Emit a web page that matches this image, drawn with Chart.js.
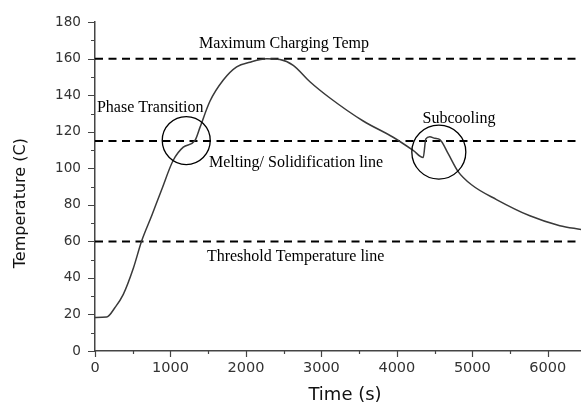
<!DOCTYPE html>
<html lang="en">
<head>
    <meta charset="UTF-8">
    <title>Temperature vs Time</title>
    <style>
        html, body {
            margin: 0;
            padding: 0;
            background: #ffffff;
            overflow: hidden;
        }
        #chart {
            display: block;
        }
    </style>
    <script src="https://cdn.jsdelivr.net/npm/chart.js"></script>
</head>
<body>
    <canvas id="chart" width="581" height="404"></canvas>

    <script>
        // Measured temperature curve (time in s, temperature in C)
        const timeSec = [0, 155, 265, 375, 508, 618, 751, 883, 1037, 1170, 1324, 1391, 1523, 1700, 1877, 2053, 2274, 2450,
            2627, 2848, 3113, 3554, 3951, 4216, 4349, 4384, 4437, 4503, 4570, 4680, 4812, 4989, 5320, 5762, 6159, 6440];
        const tempC = [18.4, 18.6, 23.8, 31, 45.3, 60.2, 74, 88.3, 104.4, 111.6, 115.2, 122.4, 136.7, 148.3, 155.5, 158.1, 160, 159.6,
            156.4, 147.4, 138.5, 125.9, 117, 109.8, 105.9, 116.1, 117.3, 116.4, 115.7, 108, 98.2, 91, 82.9, 74, 68.6, 66.5];

        // Reference levels drawn as dashed lines
        const refLevels = [160, 115, 60];

        // Axis setup
        const xMin = 0, xMax = 6440, xStep = 1000, xMinor = 500;
        const yMin = 0, yMax = 180, yStep = 20, yMinor = 10;
        const xTitle = 'Time (s)';
        const yTitle = 'Temperature (C)';

        // Text notes and circled regions
        const noteTexts = ['Maximum Charging Temp', 'Phase Transition', 'Melting/ Solidification line', 'Subcooling', 'Threshold Temperature line'];
        const noteX = [1377, 26, 1510, 4340, 1483];
        const noteY = [166, 130.6, 100.5, 125, 49.3];
        const circleX = [1209, 4556];
        const circleY = [115.2, 108.9];
        const circleR = [24, 27];

        const curve = timeSec.map((t, i) => ({ x: t, y: tempC[i] }));

        const datasets = [{
            data: curve,
            borderColor: '#3a3a3a',
            borderWidth: 1.5,
            pointRadius: 0,
            cubicInterpolationMode: 'monotone',
            fill: false
        }];
        refLevels.forEach(v => {
            datasets.push({
                data: [{ x: xMin, y: v }, { x: xMax, y: v }],
                borderColor: '#000000',
                borderWidth: 2,
                borderDash: [8, 5.5],
                pointRadius: 0,
                fill: false
            });
        });

        // Tick marks on the outside of both axes, long for major, short for minor
        const tickMarks = {
            id: 'tickMarks',
            afterDraw(chart) {
                const { ctx, scales: { x, y }, chartArea } = chart;
                ctx.save();
                ctx.strokeStyle = '#444444';
                ctx.lineWidth = 1.2;
                ctx.beginPath();
                for (let v = yMin; v <= yMax; v += yMinor) {
                    const py = Math.round(y.getPixelForValue(v)) + 0.5;
                    const len = v % yStep === 0 ? 7 : 4;
                    ctx.moveTo(chartArea.left - len, py);
                    ctx.lineTo(chartArea.left, py);
                }
                for (let v = xMin; v <= xMax; v += xMinor) {
                    const px = Math.round(x.getPixelForValue(v)) + 0.5;
                    const len = v % xStep === 0 ? 6 : 3;
                    ctx.moveTo(px, chartArea.bottom);
                    ctx.lineTo(px, chartArea.bottom + len);
                }
                ctx.stroke();
                ctx.restore();
            }
        };

        // Axis titles, placed off the axes a bit below/right of the area centre
        const axisTitles = {
            id: 'axisTitles',
            afterDraw(chart) {
                const { ctx, chartArea } = chart;
                ctx.save();
                ctx.fillStyle = '#111111';
                ctx.textAlign = 'center';
                ctx.textBaseline = 'alphabetic';
                ctx.font = '18px "DejaVu Sans", sans-serif';
                ctx.fillText(xTitle, chartArea.left + 250, chartArea.bottom + 48.5);
                ctx.font = '16px "DejaVu Sans", sans-serif';
                ctx.translate(25, chartArea.top + 181);
                ctx.rotate(-Math.PI / 2);
                ctx.fillText(yTitle, 0, 0);
                ctx.restore();
            }
        };

        // Notes and circles placed in data space
        const notes = {
            id: 'notes',
            afterDatasetsDraw(chart) {
                const { ctx, scales: { x, y } } = chart;
                ctx.save();
                ctx.fillStyle = '#000000';
                ctx.font = '16px "Liberation Serif", "Times New Roman", serif';
                ctx.textBaseline = 'alphabetic';
                ctx.textAlign = 'left';
                noteTexts.forEach((t, i) => {
                    ctx.fillText(t, x.getPixelForValue(noteX[i]), y.getPixelForValue(noteY[i]));
                });
                ctx.strokeStyle = '#000000';
                ctx.lineWidth = 1.3;
                circleX.forEach((cx, i) => {
                    ctx.beginPath();
                    ctx.arc(x.getPixelForValue(cx), y.getPixelForValue(circleY[i]), circleR[i], 0, Math.PI * 2);
                    ctx.stroke();
                });
                ctx.restore();
            }
        };

        new Chart(document.getElementById('chart'), {
            type: 'line',
            data: { datasets: datasets },
            plugins: [tickMarks, axisTitles, notes],
            options: {
                responsive: false,
                animation: false,
                layout: { padding: { top: 16, right: 0, left: 0, bottom: 0 } },
                plugins: {
                    legend: { display: false },
                    tooltip: { enabled: false }
                },
                scales: {
                    x: {
                        type: 'linear',
                        min: xMin,
                        max: xMax,
                        afterFit: s => { s.height = 53; },
                        // labelled ticks every 1000 s, the range itself is not a whole multiple
                        afterBuildTicks: s => {
                            const ticks = [];
                            for (let v = xMin; v <= xMax; v += xStep) ticks.push({ value: v });
                            s.ticks = ticks;
                        },
                        ticks: {
                            autoSkip: false,
                            callback: v => String(v),
                            color: '#333333',
                            font: { family: 'DejaVu Sans', size: 14.5 },
                            padding: 9,
                            maxRotation: 0
                        },
                        grid: { display: true, drawOnChartArea: false, drawTicks: false },
                        border: { display: true, color: '#444444', width: 1.5 }
                    },
                    y: {
                        min: yMin,
                        max: yMax,
                        afterFit: s => { s.width = 95; },
                        ticks: {
                            stepSize: yStep,
                            color: '#333333',
                            font: { family: 'DejaVu Sans', size: 13.6 },
                            padding: 14
                        },
                        grid: { display: true, drawOnChartArea: false, drawTicks: false },
                        border: { display: true, color: '#444444', width: 1.5 }
                    }
                }
            }
        });
    </script>
</body>
</html>
